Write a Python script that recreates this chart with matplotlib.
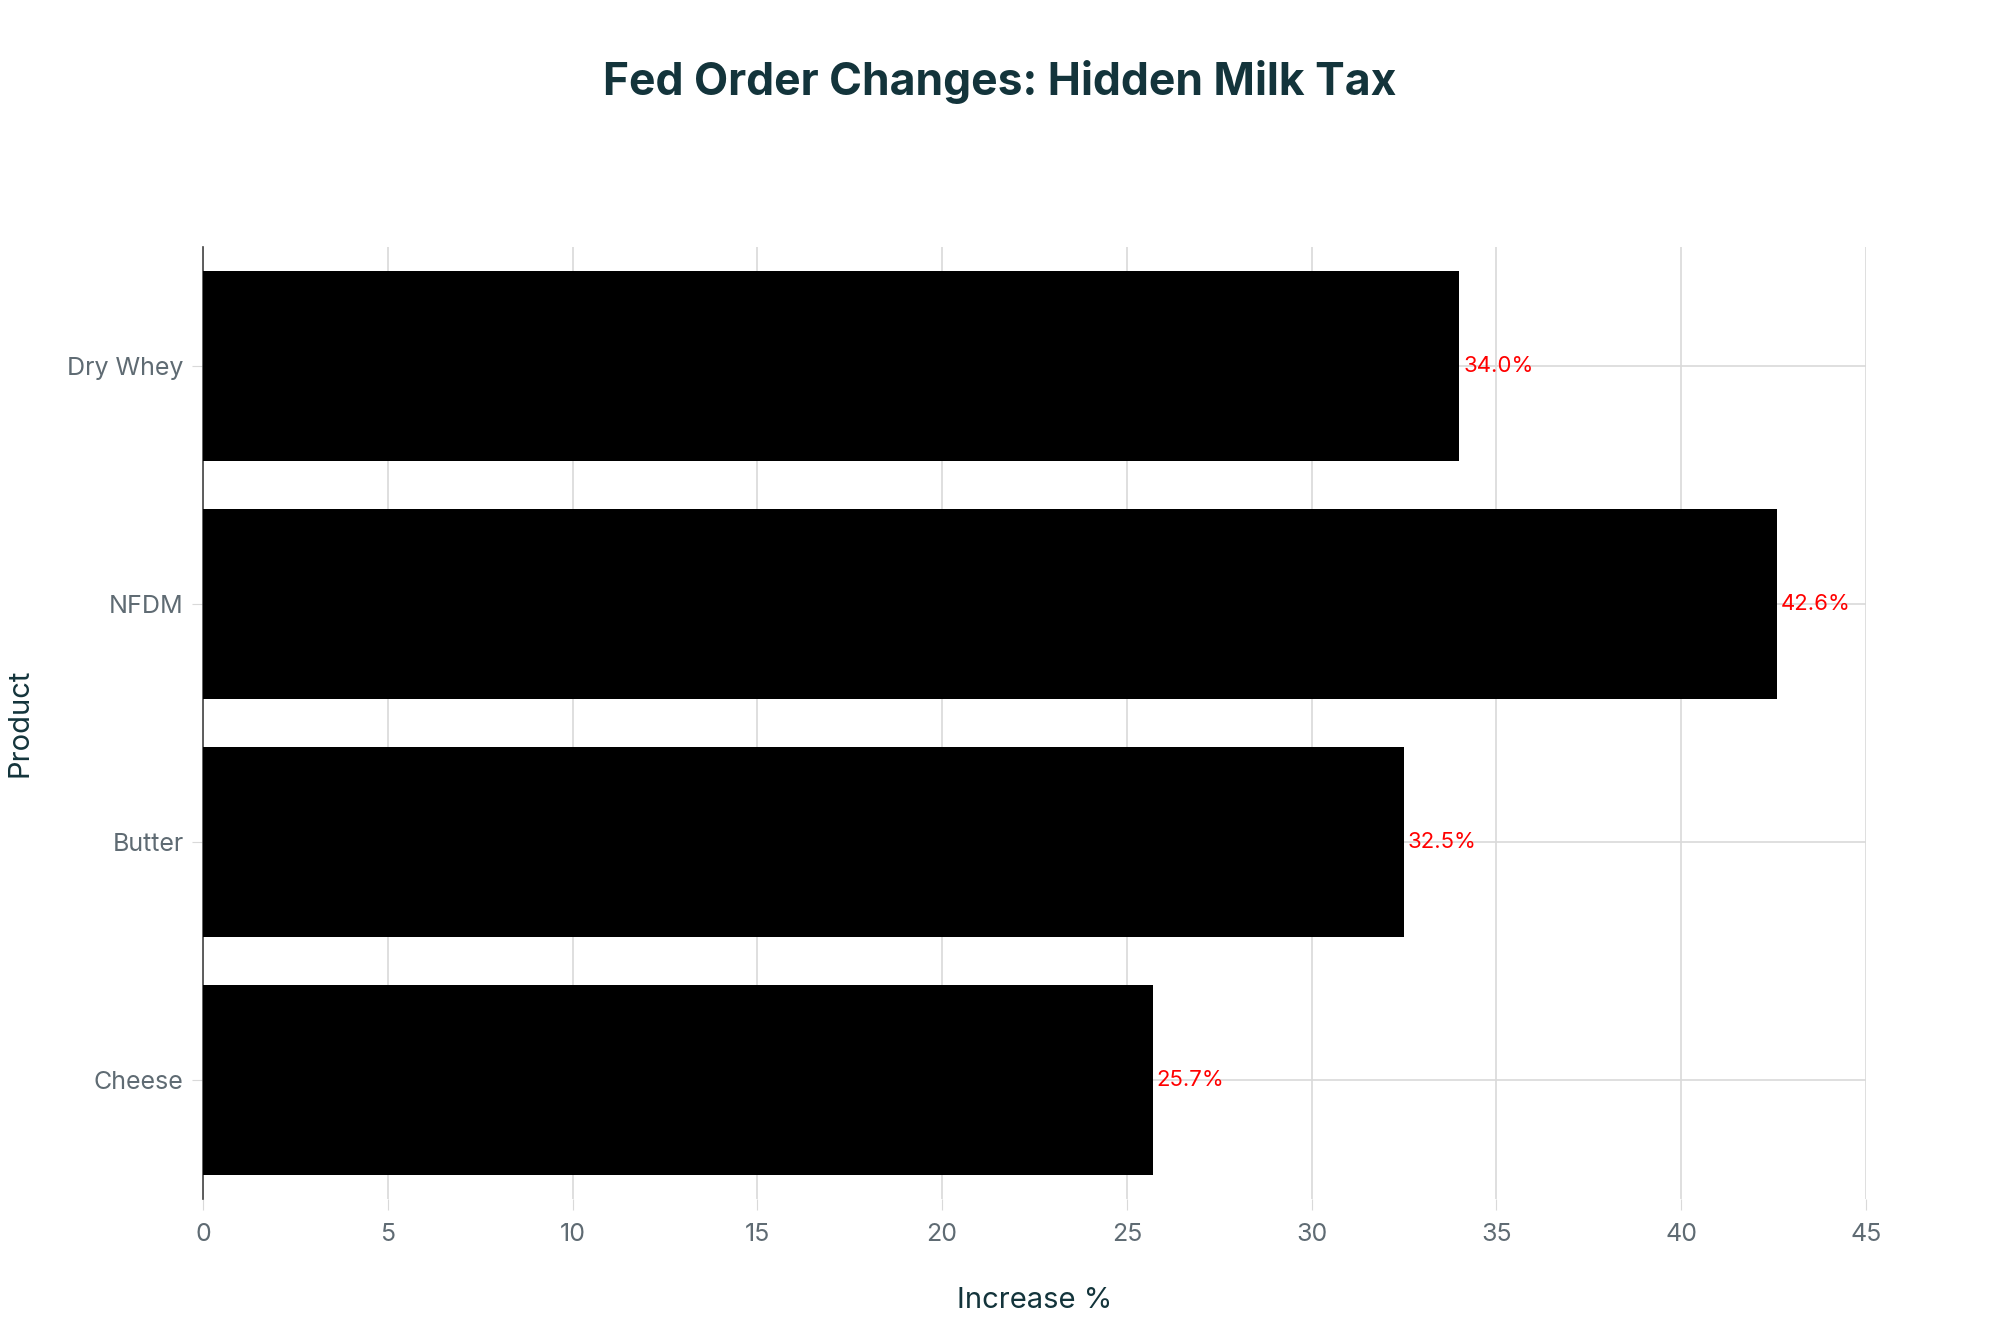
import matplotlib
matplotlib.use("Agg")
import matplotlib.pyplot as plt

# data
products = ["Cheese", "Butter", "NFDM", "Dry Whey"]
increase = [25.7, 32.5, 42.6, 34.0]
x_ticks = [0, 5, 10, 15, 20, 25, 30, 35, 40, 45]

plt.rcParams["font.family"] = ["Inter", "DejaVu Sans"]

fig = plt.figure(figsize=(20, 13.33), dpi=100)
ax = fig.add_axes([203 / 2000, 1 - 1199 / 1333, (1866 - 203) / 2000, (1199 - 247) / 1333])

ypos = list(range(len(products)))
ax.barh(ypos, increase, height=0.8, color="black", zorder=3)

for y, v in zip(ypos, increase):
    ax.text(v + 0.1, y, f"{v:.1f}%", color="red", fontsize=16, va="center", ha="left", zorder=4)

ax.set_xlim(0, 45)
ax.set_ylim(-0.5, 3.5)
ax.set_xticks(x_ticks)
ax.set_yticks(ypos)
ax.set_yticklabels(products)

ax.grid(True, axis="both", color="#d9d9d9", linewidth=1.2, zorder=0)
for s in ["top", "right", "bottom"]:
    ax.spines[s].set_visible(False)
ax.spines["left"].set_color("#444444")
ax.spines["left"].set_linewidth(1.2)

ax.tick_params(axis="x", length=8, color="#d9d9d9", labelsize=18, labelcolor="#5f6b73", pad=9)
ax.tick_params(axis="y", length=8, color="#d9d9d9", labelsize=18, labelcolor="#5f6b73", pad=6)

ax.set_xlabel("Increase %", fontsize=21, color="#13343b", labelpad=30)
ax.set_ylabel("Product", fontsize=21, color="#13343b", labelpad=24)

fig.text(0.5, 1 - 82 / 1333, "Fed Order Changes: Hidden Milk Tax", ha="center", va="center",
         fontsize=32, fontweight="bold", color="#13343b")

fig.savefig("out.png", dpi=100, facecolor="white")
